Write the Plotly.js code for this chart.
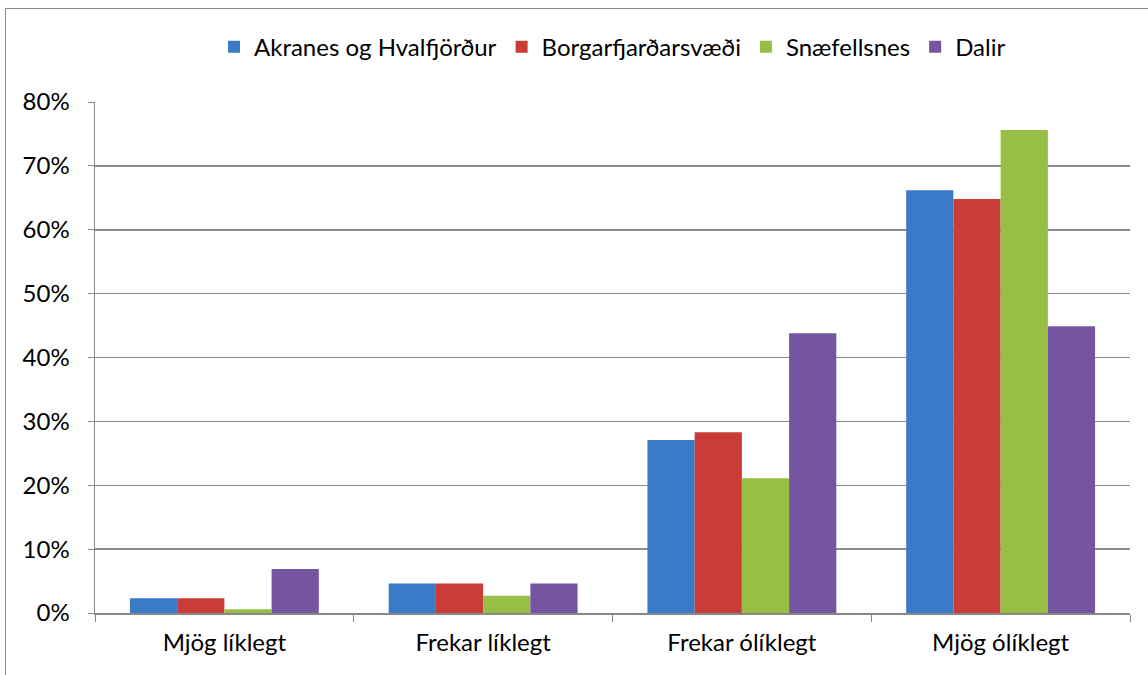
<!DOCTYPE html>
<html>
<head>
<meta charset="utf-8">
<script src="https://cdn.plot.ly/plotly-3.0.1.min.js"></script>
<style>
html,body{margin:0;padding:0;background:#fff;}
#chart{position:absolute;left:0;top:0;width:1148px;height:675px;}
#frame{position:absolute;left:5px;top:8px;width:1150px;height:680px;border:1px solid #8a8a8a;pointer-events:none;}
</style>
</head>
<body>
<div id="chart"></div>
<div id="frame"></div>
<script>
var categories = ["Mjög líklegt", "Frekar líklegt", "Frekar ólíklegt", "Mjög ólíklegt"];
var seriesNames = ["Akranes og Hvalfjörður", "Borgarfjarðarsvæði", "Snæfellsnes", "Dalir"];
var akranes = [0.023, 0.046, 0.271, 0.662];
var borgarfjordur = [0.023, 0.046, 0.283, 0.648];
var snaefellsnes = [0.006, 0.027, 0.211, 0.756];
var dalir = [0.069, 0.046, 0.438, 0.449];
var colors = ["#3a7bc8", "#c93c38", "#98bf45", "#7655a0"];

var allValues = [akranes, borgarfjordur, snaefellsnes, dalir];
var traces = allValues.map(function(vals, i) {
  return {
    type: "bar",
    name: seriesNames[i],
    x: categories,
    y: vals,
    marker: {color: colors[i], line: {width: 0}},
    hoverinfo: "x+y+name"
  };
});

var layout = {
  width: 1148,
  height: 675,
  margin: {l: 95, r: 18, t: 102, b: 62},
  paper_bgcolor: "#fff",
  plot_bgcolor: "#fff",
  font: {family: "Lato, 'Open Sans', sans-serif", size: 24, color: "#000"},
  barmode: "group",
  bargap: 0.27,
  bargroupgap: 0,
  showlegend: true,
  legend: {
    orientation: "h",
    x: 0.5, xanchor: "center",
    y: 0.93, yanchor: "middle",
    yref: "container",
    font: {size: 24},
    itemwidth: 30,
    tracegroupgap: 0
  },
  xaxis: {
    type: "category",
    tickson: "boundaries",
    ticks: "outside",
    ticklen: 7,
    tickcolor: "#888",
    showline: true,
    linecolor: "#888",
    linewidth: 1.5,
    showgrid: false,
    ticklabelstandoff: 8,
    tickfont: {size: 24}
  },
  yaxis: {
    range: [0, 0.8],
    dtick: 0.1,
    tickformat: ".0%",
    ticks: "outside",
    ticklen: 6,
    tickcolor: "#888",
    showline: true,
    linecolor: "#888",
    linewidth: 1.5,
    gridcolor: "#8c8c8c",
    gridwidth: 1.5,
    zeroline: false,
    ticklabelstandoff: 13,
    tickfont: {size: 24}
  }
};

Plotly.newPlot("chart", traces, layout, {displayModeBar: false, staticPlot: true});
</script>
</body>
</html>
